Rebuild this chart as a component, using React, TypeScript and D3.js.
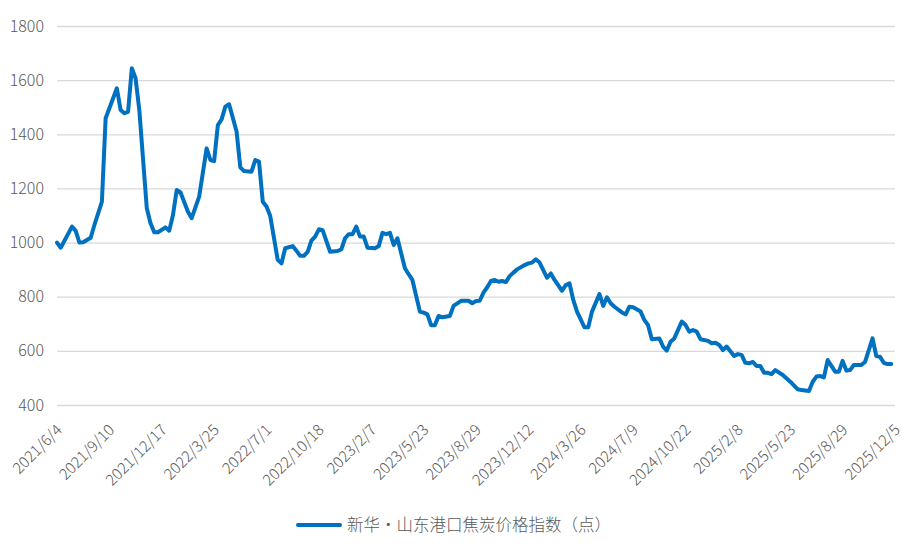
import React, { useEffect, useRef } from "react";
import * as d3 from "d3";

// x tick labels, one every 14 weeks
const tickLabels = [
  "2021/6/4",
  "2021/9/10",
  "2021/12/17",
  "2022/3/25",
  "2022/7/1",
  "2022/10/18",
  "2023/2/7",
  "2023/5/23",
  "2023/8/29",
  "2023/12/12",
  "2024/3/26",
  "2024/7/9",
  "2024/10/22",
  "2025/2/8",
  "2025/5/23",
  "2025/8/29",
  "2025/12/5",
];
const labelStep = 14;

// week index (from 2021/6/4) and index value, read at the turning points
const weeks = [
  0, 1, 4, 5, 6, 7, 9, 10, 11, 12, 13, 14, 16, 17, 18, 19, 20, 21, 22, 24, 25,
  26, 27, 29, 30, 31, 32, 33, 35, 36, 38, 40, 41, 42, 43, 44, 45, 46, 48, 49,
  50, 52, 53, 54, 55, 56, 57, 59, 60, 61, 63, 64, 65, 66, 67, 68, 69, 70, 71,
  73, 75, 76, 77, 78, 79, 80, 81, 82, 83, 85, 86, 87, 88, 89, 90, 91, 93, 94,
  95, 97, 98, 99, 100, 101, 102, 103, 105, 106, 108, 110, 111, 112, 113, 114,
  115, 116, 117, 118, 119, 120, 121, 122, 123, 125, 126, 127, 128, 129, 131,
  132, 133, 135, 136, 137, 138, 139, 141, 142, 143, 145, 146, 147, 148, 149,
  151, 152, 153, 154, 156, 157, 158, 159, 161, 162, 163, 164, 165, 167, 168,
  169, 170, 171, 172, 174, 175, 176, 177, 178, 179, 181, 182, 183, 184, 185,
  186, 187, 188, 189, 190, 191, 192, 194, 196, 198, 199, 201, 202, 203, 204,
  205, 206, 208, 209, 210, 211, 212, 213, 215, 216, 218, 219, 220, 221, 222,
  223,
];
const values = [
  1000, 981, 1059, 1043, 1000, 1001, 1018, 1065, 1108, 1151, 1459, 1496, 1570,
  1490, 1478, 1483, 1644, 1607, 1490, 1127, 1071, 1038, 1038, 1056, 1044, 1102,
  1194, 1186, 1114, 1090, 1170, 1348, 1305, 1301, 1434, 1455, 1502, 1511, 1410,
  1278, 1264, 1262, 1305, 1299, 1151, 1133, 1098, 936, 923, 979, 987, 970, 951,
  951, 966, 1007, 1022, 1049, 1046, 966, 969, 975, 1016, 1031, 1031, 1059, 1022,
  1022, 981, 979, 987, 1036, 1031, 1036, 991, 1016, 905, 883, 862, 745, 741,
  735, 695, 695, 729, 724, 729, 766, 785, 785, 776, 784, 785, 815, 835, 858,
  862, 855, 858, 854, 876, 889, 901, 917, 923, 926, 938, 926, 870, 886, 862,
  822, 843, 849, 788, 745, 687, 687, 745, 810, 766, 798, 776, 763, 742, 735,
  763, 761, 745, 714, 695, 643, 646, 616, 601, 634, 646, 708, 696, 671, 677,
  671, 643, 637, 628, 630, 622, 603, 616, 581, 588, 585, 556, 554, 559, 544,
  544, 519, 519, 514, 529, 511, 486, 458, 455, 452, 486, 505, 507, 502, 566,
  523, 523, 563, 527, 529, 548, 548, 559, 646, 581, 578, 556, 551, 551,
];

const yTicks = [400, 600, 800, 1000, 1200, 1400, 1600, 1800];
const seriesName = "新华·山东港口焦炭价格指数（点）";

const W = 921;
const H = 552;
const FONT = "'Noto Sans CJK SC', 'Noto Sans', sans-serif";

const App: React.FC = () => {
  const svgRef = useRef<SVGSVGElement | null>(null);

  useEffect(() => {
    document.body.style.margin = "0";
    const svg = d3.select(svgRef.current).attr("width", W).attr("height", H);
    svg.selectAll("*").remove();

    const left = 57;
    const right = 895;
    const top = 26;
    const bottom = 405;

    const x = d3
      .scaleLinear()
      .domain([0, (tickLabels.length - 1) * labelStep])
      .range([left, right]);
    const y = d3.scaleLinear().domain([400, 1800]).range([bottom, top]);

    // gridlines + y labels
    const yAxis = d3
      .axisLeft(y)
      .tickValues(yTicks)
      .tickSize(-(right - left))
      .tickPadding(13)
      .tickFormat((d) => String(d));

    svg
      .append("g")
      .attr("transform", `translate(${left},0)`)
      .call(yAxis)
      .call((g) => g.select(".domain").remove())
      .call((g) =>
        g.selectAll(".tick line").attr("stroke", "#d9d9d9").attr("stroke-width", 1.3)
      )
      .call((g) =>
        g
          .selectAll(".tick text")
          .attr("fill", "#595959")
          .attr("font-size", 16)
          .attr("font-weight", 300)
          .attr("font-family", FONT)
      );

    // x labels, rotated
    svg
      .append("g")
      .selectAll("text")
      .data(tickLabels)
      .enter()
      .append("text")
      .attr(
        "transform",
        (d, i) => `translate(${x(i * labelStep) + 6},${bottom + 26}) rotate(-45)`
      )
      .attr("text-anchor", "end")
      .attr("fill", "#595959")
      .attr("font-size", 15.5)
      .attr("font-weight", 300)
      .attr("font-family", FONT)
      .text((d) => d);

    // series line
    const pts: [number, number][] = weeks.map((w, i) => [w, values[i]]);
    const line = d3
      .line<[number, number]>()
      .x((d) => x(d[0]))
      .y((d) => y(d[1]));

    svg
      .append("path")
      .datum(pts)
      .attr("d", line)
      .attr("fill", "none")
      .attr("stroke", "#0070C0")
      .attr("stroke-width", 4)
      .attr("stroke-linejoin", "round")
      .attr("stroke-linecap", "round");

    // legend
    const lg = svg.append("g").attr("transform", "translate(298,525)");
    lg.append("line")
      .attr("x1", 0)
      .attr("x2", 42)
      .attr("stroke", "#0070C0")
      .attr("stroke-width", 4)
      .attr("stroke-linecap", "round");
    lg.append("text")
      .attr("x", 49)
      .attr("y", 0)
      .attr("dy", "0.35em")
      .attr("fill", "#595959")
      .attr("font-size", 16.5)
      .attr("font-weight", 300)
      .attr("font-family", FONT)
      .text(seriesName);
  }, []);

  return <svg ref={svgRef}></svg>;
};

export default App;
